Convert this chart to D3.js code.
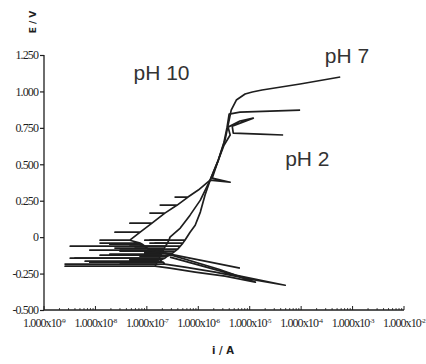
<!DOCTYPE html>
<html>
<head>
<meta charset="utf-8">
<script src="https://cdn.jsdelivr.net/npm/d3@7"></script>
<style>
  body { margin: 0; background: #fff; }
</style>
</head>
<body>
<script>
// current exponents (log10 i / A) and potentials (E / V).
// the noisy scan near the corrosion potential shows as horizontal dashes (out and back)
const logI_pH7 = [-6.55, -5.28, -4.31, -4.99, -5.67, -6.26,
  -6.65, -8.59, -6.65, -6.68, -7.72, -6.68, -6.74, -8.20, -6.74,
  -6.70, -7.33, -6.70, -6.65, -8.40, -6.65, -6.60, -7.13, -6.60,
  -6.55, -7.91, -6.55, -6.50, -7.04, -6.50, -6.45, -7.52, -6.45,
  -6.40, -6.94, -6.40, -6.35, -7.13, -6.35, -6.30, -6.84, -6.30,
  -6.26, -6.94, -6.26,
  -6.16, -6.06, -5.96, -5.87, -5.77, -5.38, -5.73,
  -5.61, -5.48, -5.42, -5.36, -5.26, -5.09, -4.95, -4.76, -4.02, -3.24];
const E_pH7 = [-0.137, -0.261, -0.330, -0.289, -0.240, -0.206,
  -0.185, -0.185, -0.185, -0.172, -0.172, -0.172, -0.165, -0.165, -0.165,
  -0.151, -0.151, -0.151, -0.144, -0.144, -0.144, -0.130, -0.130, -0.130,
  -0.124, -0.124, -0.124, -0.110, -0.110, -0.110, -0.096, -0.096, -0.096,
  -0.082, -0.082, -0.082, -0.062, -0.062, -0.062, -0.041, -0.041, -0.041,
  -0.021, -0.021, -0.021,
  0.034, 0.082, 0.172, 0.288, 0.391, 0.377, 0.405,
  0.529, 0.666, 0.769, 0.872, 0.941, 0.982, 0.996, 1.010, 1.051, 1.099];

const logI_pH10 = [-6.65, -5.60, -4.89, -5.48, -6.06, -6.55,
  -6.84, -8.59, -6.84, -6.82, -7.52, -6.82, -6.80, -8.11, -6.80,
  -6.78, -7.33, -6.78, -6.76, -8.49, -6.76, -6.74, -7.13, -6.74,
  -6.72, -7.72, -6.72, -6.70, -7.04, -6.70, -6.68, -7.52, -6.68,
  -6.66, -7.23, -6.66, -6.64, -7.33, -6.64, -6.60, -6.94, -6.60,
  -6.57, -7.04, -6.57,
  -6.55, -6.35, -6.16, -5.96, -5.77, -5.61, -5.50, -5.44, -5.40, -5.19, -4.60, -4.02];
const E_pH10 = [-0.110, -0.220, -0.309, -0.268, -0.240, -0.213,
  -0.199, -0.199, -0.199, -0.185, -0.185, -0.185, -0.172, -0.172, -0.172,
  -0.158, -0.158, -0.158, -0.144, -0.144, -0.144, -0.130, -0.130, -0.130,
  -0.117, -0.117, -0.117, -0.103, -0.103, -0.103, -0.089, -0.089, -0.089,
  -0.075, -0.075, -0.075, -0.062, -0.062, -0.062, -0.041, -0.041, -0.041,
  -0.021, -0.021, -0.021,
  0.000, 0.062, 0.151, 0.254, 0.391, 0.529, 0.652, 0.755, 0.844, 0.858, 0.865, 0.872];

const logI_pH2 = [-5.19, -5.77, -6.26, -6.65, -6.94,
  -8.11, -6.94,
  -6.99, -7.62, -6.99, -7.04, -8.49, -7.04, -7.09, -7.72, -7.09,
  -7.13, -7.91, -7.13, -7.33, -7.91, -7.33,
  -7.13, -7.62, -7.13, -6.90, -7.33, -6.90, -6.65, -6.94, -6.65,
  -6.41, -6.74, -6.41, -6.20, -6.45, -6.20,
  -6.00, -5.77, -5.61, -5.50, -5.38, -5.42, -5.19, -4.93, -5.34, -5.32, -4.80, -4.35];
const E_pH2 = [-0.213, -0.172, -0.137, -0.110, -0.089,
  -0.089, -0.089,
  -0.075, -0.075, -0.075, -0.062, -0.062, -0.062, -0.048, -0.048, -0.048,
  -0.041, -0.041, -0.041, -0.021, -0.021, -0.021,
  0.034, 0.034, 0.034, 0.096, 0.096, 0.096, 0.165, 0.165, 0.165,
  0.220, 0.220, 0.220, 0.275, 0.275, 0.275,
  0.323, 0.391, 0.529, 0.631, 0.701, 0.755, 0.797, 0.817, 0.762, 0.714, 0.707, 0.701];

const curves = [
  { name: "pH 7",  logI: logI_pH7,  E: E_pH7 },
  { name: "pH 10", logI: logI_pH10, E: E_pH10 },
  { name: "pH 2",  logI: logI_pH2,  E: E_pH2 }
];

const xTickExp = [-9, -8, -7, -6, -5, -4, -3, -2];
const yTicks = [-0.5, -0.25, 0, 0.25, 0.5, 0.75, 1.0, 1.25];
const yTickLabels = ["-0.500", "-0.250", "0", "0.250", "0.500", "0.750", "1.000", "1.250"];

// curve labels placed as in the figure
const labelNames = ["pH 10", "pH 7", "pH 2"];
const labelLogI  = [-7.26, -3.54, -4.31];
const labelE     = [1.078, 1.196, 0.488];

const width = 426, height = 364;
const margin = { left: 44, right: 22, top: 55, bottom: 54 };

const svg = d3.select("body").append("svg")
  .attr("width", width)
  .attr("height", height);

const x = d3.scaleLog()
  .domain([1e-9, 1e-2])
  .range([margin.left, width - margin.right]);

const y = d3.scaleLinear()
  .domain([-0.5, 1.25])
  .range([height - margin.bottom, margin.top]);

const ink = "#1e1e1e";
const tickFont = "'Liberation Serif', 'DejaVu Serif', serif";

// y axis
const yAxis = svg.append("g")
  .attr("transform", `translate(${margin.left},0)`)
  .call(d3.axisLeft(y).tickValues(yTicks).tickFormat((d, i) => yTickLabels[i]).tickSize(4).tickPadding(2));
yAxis.select(".domain").attr("stroke", ink).attr("stroke-width", 1.3).attr("d", `M0,${y(1.25)}V${y(-0.5)}`);
yAxis.selectAll(".tick line").attr("stroke", ink).attr("stroke-width", 1.2);
yAxis.selectAll(".tick text")
  .attr("fill", ink)
  .style("font-family", tickFont)
  .style("font-size", "12px")
  .style("letter-spacing", "-0.9px");

// x axis: minor ticks point up into the plot, decade labels under the line
const minor = [];
for (let e = -9; e < -2; e++) {
  for (let m = 2; m <= 9; m++) minor.push(m * Math.pow(10, e));
}
const xg = svg.append("g").attr("transform", `translate(0,${y(-0.5)})`);
xg.append("line")
  .attr("x1", x(1e-9)).attr("x2", x(1e-2))
  .attr("stroke", ink).attr("stroke-width", 1.3);
xg.selectAll("line.minor")
  .data(minor)
  .enter()
  .append("line")
  .attr("class", "minor")
  .attr("x1", d => x(d)).attr("x2", d => x(d))
  .attr("y1", 0).attr("y2", -2)
  .attr("stroke", ink).attr("stroke-width", 0.8);
xg.selectAll("line.major")
  .data(xTickExp)
  .enter()
  .append("line")
  .attr("class", "major")
  .attr("x1", d => x(Math.pow(10, d))).attr("x2", d => x(Math.pow(10, d)))
  .attr("y1", 0).attr("y2", -4)
  .attr("stroke", ink).attr("stroke-width", 1);
const xl = xg.selectAll("text.xl")
  .data(xTickExp)
  .enter()
  .append("text")
  .attr("class", "xl")
  .attr("x", d => x(Math.pow(10, d)))
  .attr("y", 17)
  .attr("text-anchor", "middle")
  .attr("fill", ink)
  .style("font-family", tickFont)
  .style("font-size", "12px")
  .style("letter-spacing", "-0.9px");
xl.append("tspan").text("1.000x10");
xl.append("tspan")
  .attr("dy", -4)
  .style("font-size", "7px")
  .text(d => d);

// axis titles
svg.append("text")
  .attr("transform", `translate(36,22) rotate(-90)`)
  .attr("text-anchor", "middle")
  .attr("fill", ink)
  .style("font-family", "'DejaVu Sans', sans-serif")
  .style("font-size", "9px")
  .style("font-weight", "bold")
  .text("E / V");

svg.append("text")
  .attr("x", 223)
  .attr("y", 354)
  .attr("text-anchor", "middle")
  .attr("fill", ink)
  .style("font-family", "'DejaVu Sans', sans-serif")
  .style("font-size", "10px")
  .style("font-weight", "bold")
  .text("i / A");

// polarisation curves
const line = d3.line()
  .x(d => x(Math.pow(10, d[0])))
  .y(d => y(d[1]));

svg.selectAll("path.curve")
  .data(curves)
  .enter()
  .append("path")
  .attr("class", "curve")
  .attr("d", c => line(c.logI.map((v, i) => [v, c.E[i]])))
  .attr("fill", "none")
  .attr("stroke", ink)
  .attr("stroke-width", 1.7)
  .attr("stroke-linejoin", "round");

// curve labels
svg.selectAll("text.ph")
  .data(labelNames)
  .enter()
  .append("text")
  .attr("class", "ph")
  .attr("x", (d, i) => x(Math.pow(10, labelLogI[i])))
  .attr("y", (d, i) => y(labelE[i]))
  .attr("fill", "#333")
  .style("font-family", "'Liberation Sans', Arial, sans-serif")
  .style("font-size", "21px")
  .text(d => d);
</script>
</body>
</html>
